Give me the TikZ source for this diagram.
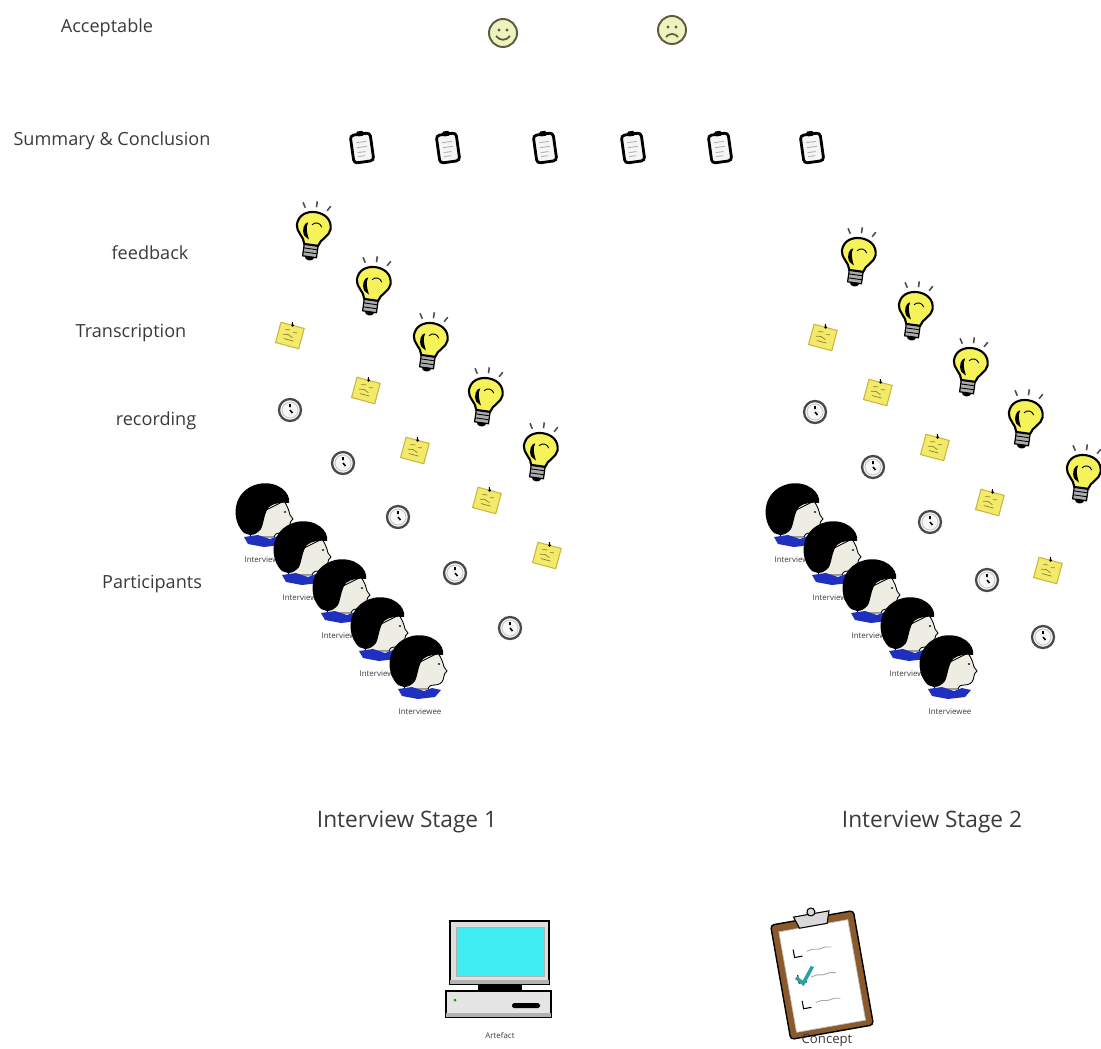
\documentclass[tikz,border=0pt]{standalone}
\usepackage{fontspec}
\setmainfont{Open Sans}

\definecolor{textgray}{HTML}{3A3A3A}
\definecolor{bulbyellow}{HTML}{F6F25A}
\definecolor{raygray}{HTML}{4A4F5A}
\definecolor{notefill}{HTML}{F3EA6C}
\definecolor{noteedge}{HTML}{C9B63A}
\definecolor{smilefill}{HTML}{EEF2BC}
\definecolor{smileedge}{HTML}{5C5C40}
\definecolor{clockgray}{HTML}{4A4A4A}
\definecolor{facecol}{HTML}{EEEDE3}
\definecolor{collarblue}{HTML}{1F2FC0}
\definecolor{screencyan}{HTML}{3FEDF3}
\definecolor{boardbrown}{HTML}{8B5A2B}
\definecolor{checkteal}{HTML}{2AA0A8}

\tikzset{
  rowlabel/.style={text=textgray, font=\fontsize{10.3}{12}\selectfont},
  stagelabel/.style={text=textgray, font=\fontsize{12.9}{15}\selectfont},
  tinylabel/.style={text=textgray, font=\fontsize{4.5}{5}\selectfont, inner sep=0pt},
}

% 灯泡
\newcommand{\bulbicon}[2]{%
  \begin{scope}[shift={(#1,#2)}, rotate=-8]
    \draw[raygray, line width=0.9pt] (-11,-23) -- (-14,-28) (0,-25) -- (0,-31) (11,-23) -- (14,-28);
    \draw[fill=gray!65, line width=0.7pt] (-7,13) rectangle (7,25);
    \draw[line width=0.5pt] (-7,17) -- (7,17) (-7,21) -- (7,21);
    \fill (-5,25) .. controls (-4,30) and (4,30) .. (5,25) -- cycle;
    \draw[fill=bulbyellow, line width=1.2pt] (-7,13) .. controls (-8,6) and (-17,2) .. (-17,-5)
      .. controls (-17,-15) and (-9,-20) .. (0,-20) .. controls (9,-20) and (17,-15) .. (17,-5)
      .. controls (17,2) and (8,6) .. (7,13) -- cycle;
    \fill (-8,5) .. controls (-12,-1) and (-10,-8) .. (-6,-9) .. controls (-8,-3) and (-6,1) .. (-3,8) -- cycle;
    \draw[line width=0.5pt] (-2,-7) .. controls (1,-11) and (6,-10) .. (8,-6);
  \end{scope}}

% 时钟
\newcommand{\clockicon}[2]{%
  \begin{scope}[shift={(#1,#2)}]
    \draw[clockgray, line width=1.3pt, fill=gray!6] (0,0) circle (11);
    \draw[gray!45, line width=0.5pt] (0,0) circle (8);
    \draw[line width=0.9pt] (0,-6) -- (0,-3) (0,0) -- (2.5,3);
  \end{scope}}

% 便签
\newcommand{\noteicon}[2]{%
  \begin{scope}[shift={(#1,#2)}, rotate=-15]
    \draw[noteedge, fill=notefill, line width=0.6pt] (-12,-10) rectangle (12,11);
    \draw[noteedge!70!black, line width=0.4pt] (-6,-4) -- (-1,-5) (2,-3) -- (6,-4)
      (-7,1) -- (-2,0) -- (3,2) (-5,5) -- (5,5);
    \draw[line width=0.6pt] (0,-10) -- (-1,-13);
    \fill (0,-10) circle (1.5);
  \end{scope}}

% 文档
\newcommand{\docicon}[2]{%
  \begin{scope}[shift={(#1,#2)}, rotate=8]
    \draw[line width=1.6pt, rounded corners=2pt, fill=gray!8] (-10,-14) rectangle (10,14);
    \fill[rounded corners=1pt] (-4,-17) rectangle (4,-12);
    \draw[gray!60, line width=0.5pt] (-5,-6) -- (5,-6) (-5,-1) -- (5,-1) (-5,4) -- (3,4) (-5,8) -- (2,8);
  \end{scope}}

% 受访者头像
\newcommand{\headicon}[4]{%
  \begin{scope}[shift={(#1,#2)}]
    \draw[line width=0.5pt, fill=facecol] (-16,22) -- (-10,0) -- (18,-14) .. controls (22,-8) and (23,-4) .. (24,0)
      .. controls (26,2) .. (27,4) .. controls (25,6) and (24,7) .. (24,9)
      .. controls (24,11) and (23,12) .. (23,13) .. controls (22,16) and (19,18) .. (14,18)
      .. controls (10,18) and (8,20) .. (8,22) -- cycle;
    \fill (-22,18) .. controls (-35,6) and (-35,-24) .. (-8,-31) .. controls (12,-35) and (25,-22) .. (23,-12)
      .. controls (16,-13) and (8,-12) .. (3,-8) .. controls (-2,-2) and (-2,8) .. (-5,14)
      .. controls (-8,18) and (-12,20) .. (-16,20) -- cycle;
    \fill (19,-3) ellipse (1.3 and 0.9);
    \fill[collarblue] (-22,22) -- (-8,20) -- (4,24) -- (12,21) -- (21,23) -- (15,30) -- (-2,32) -- (-18,29) -- cycle;
    \node[tinylabel] (#4) at (0,45) {#3};
  \end{scope}}

\begin{document}
\begin{tikzpicture}[x=0.02cm, y=-0.02cm]
  \useasboundingbox (0,0) rectangle (1101,1048);

  % 左侧各行标题
  \node[rowlabel] (acc) at (107,28) {Acceptable};
  \node[rowlabel] (summ) at (112,141) {Summary \& Conclusion};
  \node[rowlabel] (feed) at (150,253) {feedback};
  \node[rowlabel] (trans) at (131,333) {Transcription};
  \node[rowlabel] (rec) at (156,421) {recording};
  \node[rowlabel] (part) at (152,584) {Participants};

  % 笑脸与哭脸
  \draw[smileedge, fill=smilefill, line width=1.1pt] (503,33) circle (14);
  \fill[smileedge] (499,30) circle (1.6) (507,30) circle (1.6);
  \draw[smileedge, line width=1pt] (496,36) .. controls (500,41) and (506,41) .. (510,36);
  \draw[smileedge, fill=smilefill, line width=1.1pt] (672,30) circle (14);
  \fill[smileedge] (668,27) circle (1.6) (676,27) circle (1.6);
  \draw[smileedge, line width=1pt] (666,37) .. controls (669,33) and (675,33) .. (678,37);

  % 总结文档
  \foreach \px in {362,448,545,633,720,812} \docicon{\px}{148};

  % 第一阶段
  \foreach \px/\py in {290/410, 343/463, 398/517, 455/573, 510/628} \clockicon{\px}{\py};
  \foreach \px/\py in {290/335, 366/390, 415/450, 487/500, 547/555} \noteicon{\px}{\py};
  \foreach \px/\py in {313/232, 373/287, 430/343, 485/398, 540/453} \bulbicon{\px}{\py};
  \foreach \px/\py [count=\i] in {266/515, 304/553, 343/591, 381/629, 420/667}
    \headicon{\px}{\py}{Interviewee}{pa\i};

  % 第二阶段
  \foreach \px/\py in {815/412, 873/467, 930/522, 987/580, 1043/637} \clockicon{\px}{\py};
  \foreach \px/\py in {823/337, 878/392, 935/447, 990/502, 1048/570} \noteicon{\px}{\py};
  \foreach \px/\py in {858/258, 915/312, 970/368, 1025/420, 1083/475} \bulbicon{\px}{\py};
  \foreach \px/\py [count=\i] in {796/515, 834/553, 873/591, 911/629, 950/667}
    \headicon{\px}{\py}{Interviewee}{pb\i};

  \node[stagelabel] (st1) at (407,822) {Interview Stage 1};
  \node[stagelabel] (st2) at (932,822) {Interview Stage 2};

  % 电脑
  \draw[fill=gray!25, line width=0.8pt] (450,921) rectangle (549,984);
  \fill[gray!60] (450,980) rectangle (549,984);
  \draw[gray!60, fill=screencyan, line width=0.5pt] (456,927) rectangle (544,976);
  \fill (478,984) rectangle (522,991);
  \draw[fill=gray!20, line width=0.8pt] (446,991) rectangle (551,1017);
  \fill[gray!60] (446,1013) rectangle (551,1017);
  \fill[green!60!black] (455,1000) circle (1.5);
  \fill[rounded corners=1pt] (512,1003) rectangle (540,1008);
  \node[tinylabel] (art) at (500,1035) {Artefact};

  % 写字板
  \begin{scope}[shift={(822,975)}, rotate=10]
    \draw[fill=boardbrown, line width=0.8pt, rounded corners=2pt] (-42,-58) rectangle (42,58);
    \draw[gray!50, fill=white, line width=0.4pt] (-35,-50) rectangle (35,52);
    \draw[fill=gray!30, line width=0.6pt] (-18,-62) -- (18,-62) -- (14,-50) -- (-14,-50) -- cycle;
    \draw[fill=gray!30, line width=0.6pt] (0,-64) circle (4);
    \foreach \ry in {-26,0,26} {
      \draw[line width=0.6pt] (-24,\ry-4) -- (-24,\ry+4) -- (-16,\ry+4);
      \draw[gray!70, line width=0.5pt] (-11,\ry) -- (-5,\ry-1) -- (1,\ry) -- (8,\ry-1) -- (14,\ry);
    }
    \draw[checkteal, line width=2pt] (-26,-2) -- (-20,5) -- (-8,-10);
  \end{scope}
  \node[text=textgray, font=\fontsize{7.5}{9}\selectfont, inner sep=0pt] (conc) at (827,1040) {Concept};
\end{tikzpicture}
\end{document}
